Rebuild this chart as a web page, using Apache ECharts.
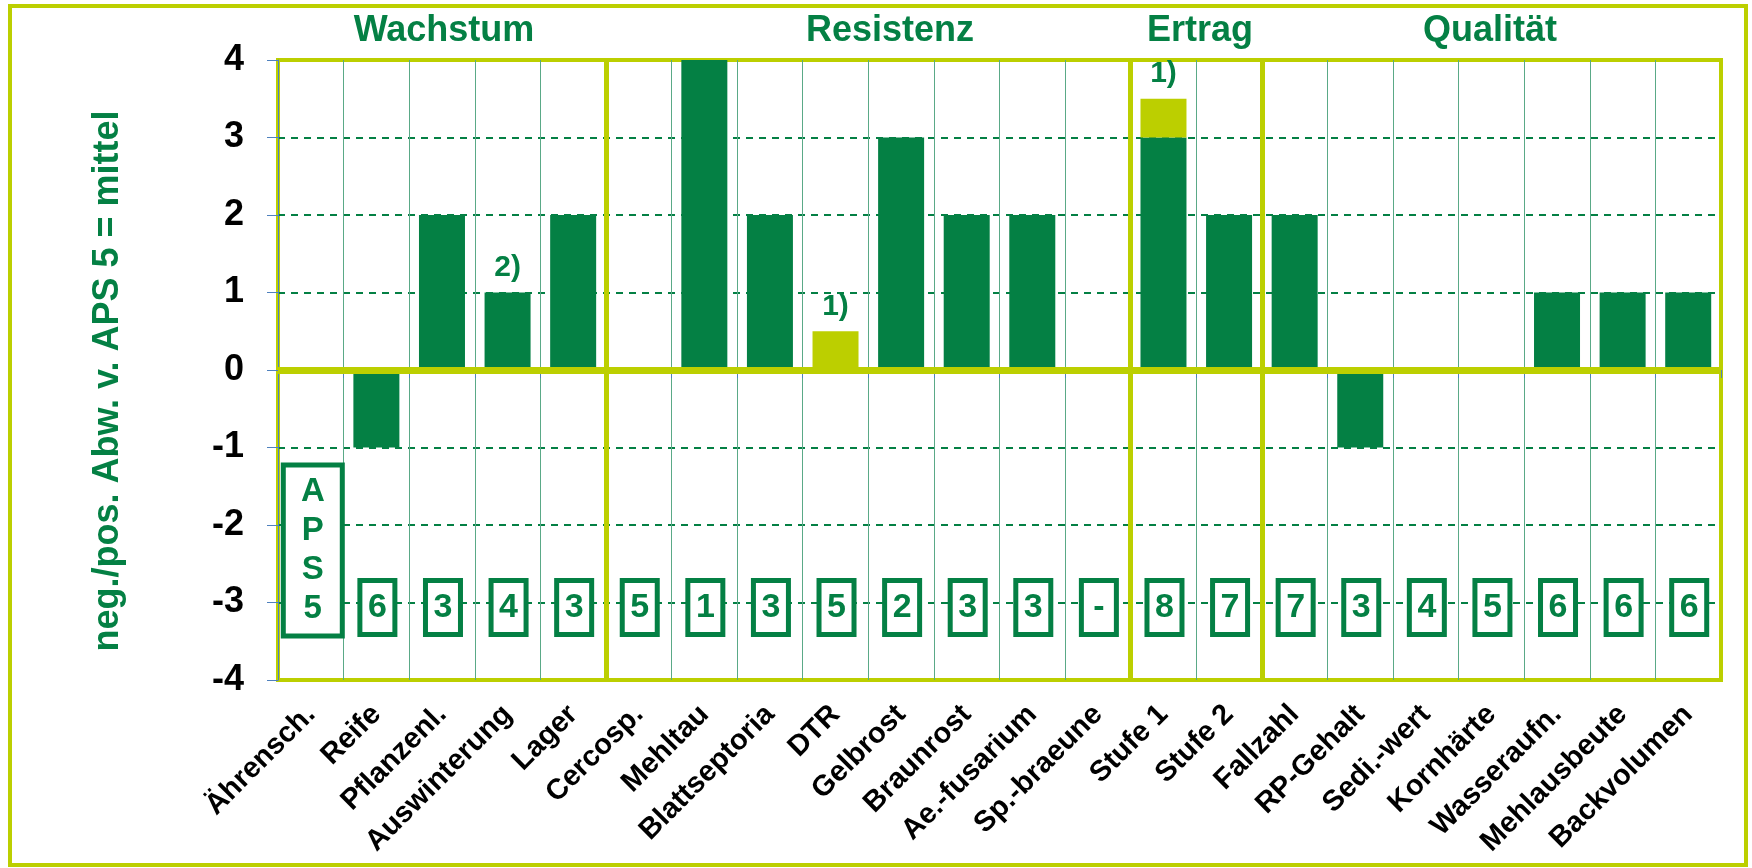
<!DOCTYPE html>
<html><head><meta charset="utf-8">
<script src="https://cdn.jsdelivr.net/npm/echarts@6/dist/echarts.min.js"></script>
<style>html,body{margin:0;padding:0;background:#fff}#c{width:1752px;height:868px}</style>
</head><body><div id="c"></div>
<script>
const categories = ['Ährensch.','Reife','Pflanzenl.','Auswinterung','Lager','Cercosp.','Mehltau','Blattseptoria','DTR','Gelbrost','Braunrost','Ae.-fusarium','Sp.-braeune','Stufe 1','Stufe 2','Fallzahl','RP-Gehalt','Sedi.-wert','Kornhärte','Wasseraufn.','Mehlausbeute','Backvolumen'];
const mainValues = [0,-1,2,1,2,0,4,2,0,3,2,2,0,3,2,2,-1,0,0,1,1,1];
const extraValues = [0,0,0,0,0,0,0,0,0.5,0,0,0,0,0.5,0,0,0,0,0,0,0,0];
const footnotes = ['','','','2)','','','','','1)','','','','','1)','','','','','','','',''];
const apsRatings = ['APS 5','6','3','4','3','5','1','3','5','2','3','3','-','8','7','7','3','4','5','6','6','6'];
const groupNames = ['Wachstum','Resistenz','Ertrag','Qualität'];
const groupBoundaries = [5,13,15];
const yMin = -4, yMax = 4, yStep = 1;
const yTitle = 'neg./pos. Abw. v. APS 5 = mittel';

const DARK = '#048044', LIGHT = '#BCCF00', FONT = "'Liberation Sans', Arial, sans-serif";
const titleX = [444, 890, 1200, 1490];
const ratingRow = -3;

const chart = echarts.init(document.getElementById('c'), null, {renderer:'canvas'});

const footLabel = {show:true, position:'top', distance:10, color:DARK, fontSize:30, fontWeight:'bold', fontFamily:FONT};

const mainData = mainValues.map((v,i)=>({
  value:v,
  label: (footnotes[i] && !extraValues[i]) ? Object.assign({formatter: footnotes[i]}, footLabel) : {show:false}
}));
const extraData = extraValues.map((v,i)=>({
  value:v,
  label: (footnotes[i] && extraValues[i]) ? Object.assign({formatter: footnotes[i]}, footLabel) : {show:false}
}));

const boxLabel = {
  show:true, position:'inside', color:DARK, opacity:1, fontSize:34, fontWeight:'bold', fontFamily:FONT,
  backgroundColor:'#ffffff', borderColor:DARK, borderWidth:5, padding:[5,5],
  width:20, height:39, lineHeight:39, align:'center', verticalAlign:'middle', offset:[1,5]
};
const ratingData = apsRatings.map((r,i)=>{
  if (r.length > 1) {
    const txt = r.replace(/\s+/g,'').split('').join('\n');
    return {value:[i, ratingRow], label:Object.assign({}, boxLabel, {formatter:txt, fontSize:33, width:44, height:156, lineHeight:39, offset:[2,-52]})};
  }
  return {value:[i, ratingRow], label:Object.assign({}, boxLabel, {formatter:r})};
});

const option = {
  animation:false,
  backgroundColor:'#fff',
  grid:{left:278, right:31, top:60, bottom:188, show:true, borderColor:LIGHT, borderWidth:4, backgroundColor:'transparent', containLabel:false, outerBoundsMode:'none'},
  xAxis:[{
    type:'category', data:categories, boundaryGap:true,
    axisLine:{show:false},
    axisTick:{show:true, length:8, lineStyle:{color:'#4f81bd', width:1}},
    axisLabel:{interval:0, rotate:45, margin:30, fontSize:29, fontWeight:'bold', color:'#000', fontFamily:FONT},
    splitLine:{show:true, showMinLine:false, showMaxLine:false, interval:0, lineStyle:{color:'#5aa987', width:1}}
  },{
    type:'value', min:0, max:categories.length, show:false
  }],
  yAxis:{
    type:'value', min:yMin, max:yMax, interval:yStep,
    axisLine:{show:true, lineStyle:{color:'#4f81bd', width:1}},
    axisTick:{show:true, length:11, lineStyle:{color:'#4f81bd', width:1}},
    axisLabel:{margin:34, fontSize:36, fontWeight:'bold', color:'#000', fontFamily:FONT},
    splitLine:{show:true, showMinLine:false, showMaxLine:false, lineStyle:{color:DARK, width:2, type:[7,6]}}
  },
  series:[
    {type:'bar', name:'main', stack:'s', data:mainData, barWidth:46, itemStyle:{color:DARK}, z:3},
    {type:'bar', name:'extra', stack:'s', data:extraData, barWidth:46, itemStyle:{color:LIGHT}, z:3},
    {type:'line', xAxisIndex:1, yAxisIndex:0, data:[], z:6, silent:true,
     markLine:{silent:true, symbol:['none','none'], label:{show:false}, z:6,
       data:[
         {yAxis:0, lineStyle:{color:LIGHT, width:7, type:'solid'}}
       ].concat(groupBoundaries.map(b=>({xAxis:b, lineStyle:{color:LIGHT, width:5, type:'solid'}})))
     }},
    {type:'scatter', data:ratingData, symbolSize:1, itemStyle:{color:'rgba(0,0,0,0)', opacity:1}, z:7, silent:true,
     emphasis:{disabled:true}}
  ],
  graphic:[
    {type:'rect', shape:{x:10, y:6, width:1736, height:859}, style:{fill:'none', stroke:LIGHT, lineWidth:4}, z:100},
    {type:'text', x:108, y:381, rotation:Math.PI/2, style:{text:yTitle, fill:DARK, font:"bold 36px " + FONT, textAlign:'center', textVerticalAlign:'middle'}}
  ].concat(groupNames.map((g,i)=>({type:'text', x:titleX[i], y:31, style:{text:g, fill:DARK, font:"bold 36px " + FONT, textAlign:'center', textVerticalAlign:'middle'}})))
};
chart.setOption(option);
</script></body></html>
